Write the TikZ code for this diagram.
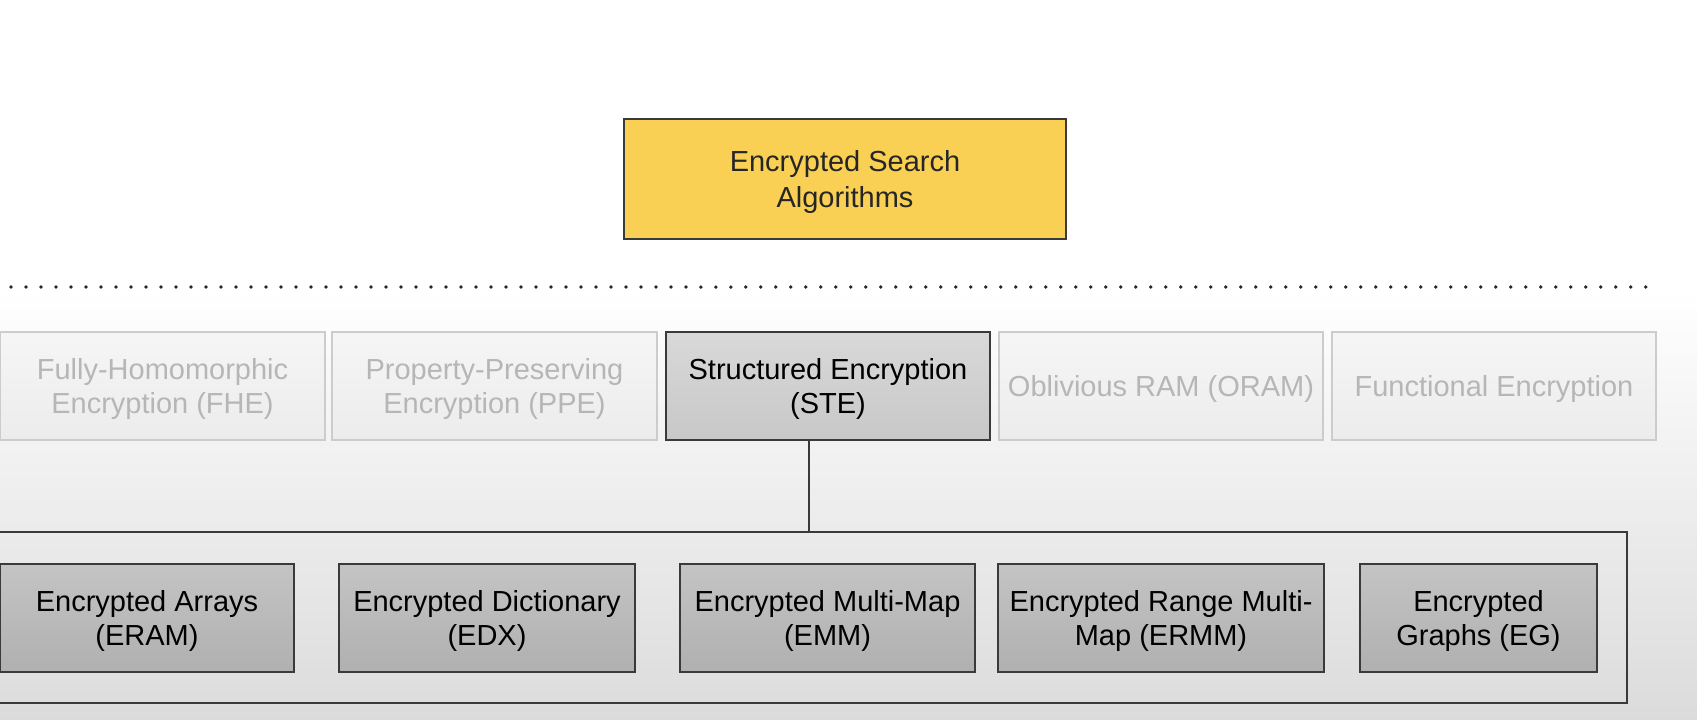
\documentclass[tikz,border=0pt]{standalone}
\usepackage{fontspec}
\setmainfont{Liberation Sans}
\usetikzlibrary{positioning}
\definecolor{searchyellow}{RGB}{249,208,84}
\definecolor{fadetext}{RGB}{182,182,182}
\definecolor{fadeline}{RGB}{204,204,204}
\definecolor{fadefill}{RGB}{236,236,236}
\definecolor{stefill}{RGB}{200,200,200}
\definecolor{subfill}{RGB}{176,176,176}
\definecolor{darkline}{RGB}{58,58,58}
\tikzset{
  box/.style={draw, line width=0.04cm, inner sep=0pt, align=center, text depth=0pt,
    font=\fontsize{16.5}{19}\selectfont, minimum height=2.16cm},
  searchbox/.style={box, fill=searchyellow, draw=darkline, text=black!85,
    font=\fontsize{16.5}{20}\selectfont, minimum width=8.84cm, minimum height=2.4cm},
  fadebox/.style={box, draw=fadeline, top color=fadefill!50!white,
    bottom color=fadefill, text=fadetext, minimum width=6.5cm},
  stebox/.style={box, draw=darkline, top color=stefill!70!white,
    bottom color=stefill, text=black, minimum width=6.5cm},
  subbox/.style={box, draw=darkline, top color=subfill!75!white,
    bottom color=subfill, text=black},
}
\begin{document}
\begin{tikzpicture}[x=0.02cm, y=-0.02cm]
			%%%%% START %%%%%
			
			\useasboundingbox (0, 0) rectangle (1697, 720);
			\fill[white] (0, 0) rectangle (1697, 292);
			\shade[top color=white, bottom color=gray!28] (0, 290) rectangle (1697, 720);
			
			\node[searchbox] (search) at (845, 179) {Encrypted Search\\Algorithms};
			
			\draw[line width=0.075cm, dash pattern=on 0pt off 0.3cm, line cap=round, color=black!85] (11, 287) -- (1656, 287);
			
			\node[fadebox] (fhe) at (162.5, 386) {Fully-Homomorphic\\Encryption (FHE)};
			\node[fadebox] (ppe) at (494.5, 386) {Property-Preserving\\Encryption (PPE)};
			\node[stebox] (ste) at (828, 386) {Structured Encryption\\(STE)};
			\node[fadebox] (oram) at (1161, 386) {Oblivious RAM (ORAM)};
			\node[fadebox] (fe) at (1494, 386) {Functional Encryption};
			
			\node[draw=darkline, line width=0.04cm, minimum width=32.64cm, minimum height=3.42cm, inner sep=0pt] (family) at (811, 617.5) {};
			\draw[line width=0.04cm, color=darkline] ([xshift=-0.38cm]ste.south) -- ([xshift=-0.38cm]ste.south |- family.north);
			
			\node[subbox, minimum width=5.88cm] (eram) at (147, 618) {Encrypted Arrays\\(ERAM)};
			\node[subbox, minimum width=5.92cm] (edx) at (487, 618) {Encrypted Dictionary\\(EDX)};
			\node[subbox, minimum width=5.9cm] (emm) at (827.5, 618) {Encrypted Multi-Map\\(EMM)};
			\node[subbox, minimum width=6.52cm] (ermm) at (1161, 618) {Encrypted Range Multi-\\Map (ERMM)};
			\node[subbox, minimum width=4.74cm] (eg) at (1478.5, 618) {Encrypted\\Graphs (EG)};
			
			%%%%% END %%%%%
\end{tikzpicture}
\end{document}
